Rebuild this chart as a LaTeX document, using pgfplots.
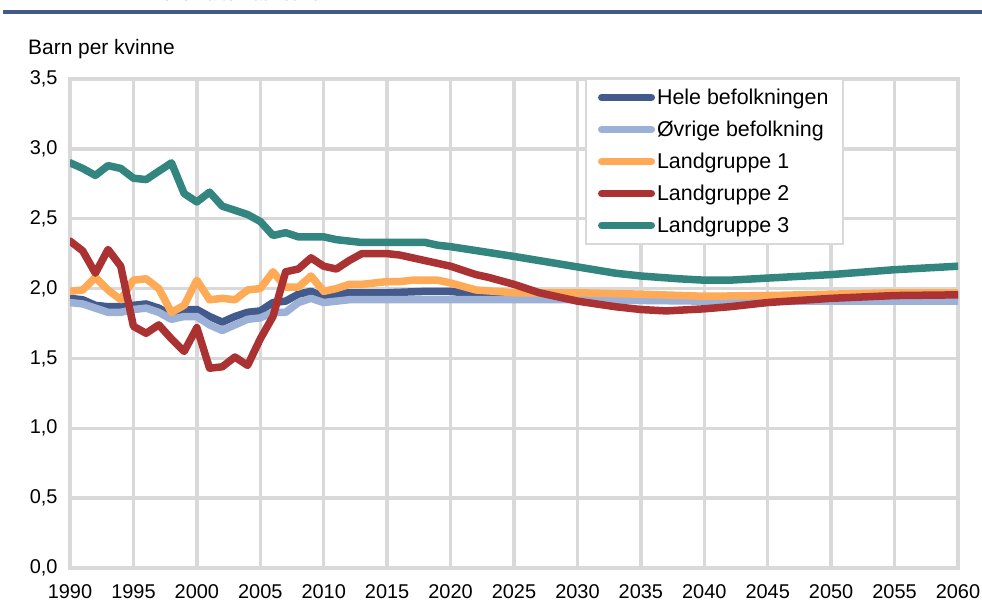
\documentclass[border=0pt]{standalone}
\usepackage{fontspec}
\setmainfont{Liberation Sans}
\usepackage{pgfplots}
\pgfplotsset{compat=1.18}
\definecolor{gridgray}{HTML}{D9D9D9}
\definecolor{c1}{HTML}{435A8C}
\definecolor{c2}{HTML}{9DB1D7}
\definecolor{c3}{HTML}{FFAA57}
\definecolor{c4}{HTML}{AA3232}
\definecolor{c5}{HTML}{33857F}
\definecolor{topblue}{HTML}{44598A}
\newcommand\myfont{\fontsize{20}{24}\selectfont}
\newcommand\legfont{\fontsize{21.5}{25}\selectfont}
\begin{document}
\begin{tikzpicture}
\useasboundingbox (0bp,0bp) rectangle (982bp,603bp);
\fill[white] (0bp,0bp) rectangle (982bp,603bp);
\node[anchor=base west, font=\bfseries\fontsize{17}{20}\selectfont, inner sep=0] at (148bp,602.5bp) {Mellomalternativet 2011};
\draw[topblue, line width=4bp] (3bp,591bp) -- (982bp,591bp);
\node[anchor=base west, inner sep=0, font=\fontsize{21}{25}\selectfont] at (28bp,548bp) {Barn per kvinne};
\begin{axis}[
  at={(70bp,35bp)}, anchor=south west, scale only axis,
  width=888bp, height=489bp,
  xmin=1990, xmax=2060, ymin=0, ymax=3.5,
  xtick={1990,1995,...,2060},
  ytick={0,0.5,...,3.5},
  grid=major,
  grid style={gridgray, line width=3.5bp},
  axis line style={gridgray, line width=3.5bp},
  major tick length=0pt,
  tick label style={font=\myfont},
  /pgf/number format/assume math mode=true,
  xticklabel style={/pgf/number format/1000 sep={}, yshift=-13bp},
  yticklabel style={/pgf/number format/.cd, fixed, fixed zerofill, precision=1, use comma, /tikz/.cd, xshift=-9bp},
  legend style={at={(rel axis cs:0.58,1.002)}, anchor=north west, draw=gridgray, line width=2bp, fill=white, font=\legfont, inner xsep=12bp, inner ysep=8bp, row sep=11bp, cells={anchor=west}},
  legend image code/.code={\draw[#1, line width=7bp, line cap=round] (0bp,0bp) -- (50bp,0bp);},
  every axis plot/.append style={line width=7.5bp, line join=round, line cap=round},
]
\addplot[c1] coordinates {
(1990,1.93)(1991,1.92)(1992,1.88)(1993,1.87)(1994,1.87)(1995,1.88)(1996,1.89)(1997,1.86)(1998,1.81)(1999,1.85)
(2000,1.85)(2001,1.80)(2002,1.76)(2003,1.80)(2004,1.83)(2005,1.84)(2006,1.90)(2007,1.91)(2008,1.96)(2009,1.98)
(2010,1.94)(2011,1.96)(2012,1.97)(2013,1.97)(2015,1.97)(2018,1.98)(2020,1.98)(2022,1.96)(2025,1.95)(2030,1.94)
(2040,1.94)(2050,1.94)(2060,1.95)};
\addlegendentry{Hele befolkningen}
\addplot[c2] coordinates {
(1990,1.90)(1991,1.89)(1992,1.86)(1993,1.83)(1994,1.83)(1995,1.85)(1996,1.86)(1997,1.83)(1998,1.78)(1999,1.80)
(2000,1.80)(2001,1.74)(2002,1.70)(2003,1.74)(2004,1.78)(2005,1.79)(2006,1.83)(2007,1.83)(2008,1.90)(2009,1.93)
(2010,1.90)(2011,1.91)(2012,1.92)(2013,1.92)(2020,1.92)(2030,1.92)(2040,1.91)(2050,1.91)(2060,1.91)};
\addlegendentry{Øvrige befolkning}
\addplot[c3] coordinates {
(1990,1.98)(1991,1.99)(1992,2.08)(1993,1.99)(1994,1.92)(1995,2.06)(1996,2.07)(1997,2.00)(1998,1.83)(1999,1.88)
(2000,2.06)(2001,1.92)(2002,1.93)(2003,1.92)(2004,1.99)(2005,2.00)(2006,2.12)(2007,2.01)(2008,2.01)(2009,2.09)
(2010,1.98)(2011,2.00)(2012,2.03)(2013,2.03)(2014,2.04)(2015,2.05)(2016,2.05)(2017,2.06)(2018,2.06)(2019,2.06)
(2020,2.04)(2022,1.99)(2025,1.97)(2030,1.97)(2035,1.96)(2040,1.945)(2045,1.95)(2050,1.96)(2055,1.97)(2060,1.97)};
\addlegendentry{Landgruppe 1}
\addplot[c4] coordinates {
(1990,2.34)(1991,2.27)(1992,2.11)(1993,2.28)(1994,2.16)(1995,1.73)(1996,1.68)(1997,1.74)(1998,1.64)(1999,1.55)
(2000,1.72)(2001,1.43)(2002,1.44)(2003,1.51)(2004,1.45)(2005,1.64)(2006,1.80)(2007,2.12)(2008,2.14)(2009,2.22)
(2010,2.16)(2011,2.14)(2012,2.20)(2013,2.25)(2014,2.25)(2015,2.25)(2016,2.24)(2017,2.22)(2018,2.20)(2019,2.18)
(2020,2.16)(2021,2.13)(2022,2.10)(2023,2.08)(2025,2.03)(2027,1.97)(2030,1.91)(2033,1.87)(2035,1.85)(2037,1.84)
(2040,1.855)(2042,1.87)(2045,1.90)(2050,1.93)(2055,1.95)(2060,1.955)};
\addlegendentry{Landgruppe 2}
\addplot[c5] coordinates {
(1990,2.90)(1991,2.86)(1992,2.81)(1993,2.88)(1994,2.86)(1995,2.79)(1996,2.78)(1997,2.84)(1998,2.90)(1999,2.68)
(2000,2.62)(2001,2.69)(2002,2.59)(2003,2.56)(2004,2.53)(2005,2.48)(2006,2.38)(2007,2.40)(2008,2.37)(2009,2.37)
(2010,2.37)(2011,2.35)(2012,2.34)(2013,2.33)(2014,2.33)(2015,2.33)(2016,2.33)(2017,2.33)(2018,2.33)(2019,2.31)
(2020,2.30)(2025,2.23)(2030,2.155)(2033,2.11)(2035,2.09)(2038,2.07)(2040,2.06)(2042,2.06)(2045,2.075)(2050,2.10)
(2055,2.135)(2060,2.16)};
\addlegendentry{Landgruppe 3}
\end{axis}
\end{tikzpicture}
\end{document}
